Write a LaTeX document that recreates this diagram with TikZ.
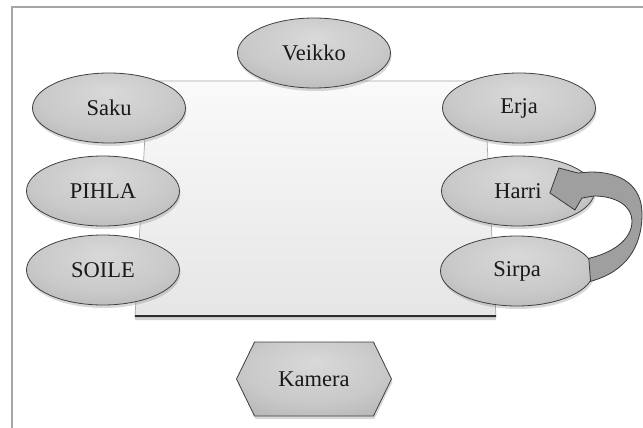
\documentclass[tikz,border=0pt]{standalone}
\usepackage{fontspec}
\setmainfont{Liberation Serif}
\usetikzlibrary{shapes.geometric,shapes.symbols,shadows,calc}

\pgfdeclareradialshading{ovalshade}{\pgfpoint{0bp}{12bp}}{color(0bp)=(gray!30); color(22bp)=(gray!42); color(38bp)=(gray!60); color(50bp)=(gray!78)}

\tikzset{
  person/.style={ellipse, draw=gray!50!black, line width=0.8pt, shade, shading=ovalshade,
    minimum width=153pt, minimum height=70pt, font=\fontsize{22.5}{27}\selectfont, text=black!90,
    drop shadow={shadow xshift=1pt, shadow yshift=-3pt, opacity=0.3}},
  cam/.style={person, signal, signal to=west and east, signal pointer angle=128,
    minimum width=155pt, minimum height=74pt, inner sep=0pt},
  turn/.style={fill=gray!75, draw=gray!45!black, line width=0.8pt},
}

\begin{document}
\begin{tikzpicture}[x=1pt,y=-1pt]
  \useasboundingbox (0,0) rectangle (643,428);
  \draw[gray!70, line width=1.8pt] (12,430) -- (12,7) -- (645,7);

  % table
  \draw[gray!70, line width=0.7pt, top color=gray!4, bottom color=gray!20,
    drop shadow={shadow xshift=0pt, shadow yshift=-3pt, opacity=0.35}]
    (148,81) -- (484,81) -- (496,317) -- (135,317) -- cycle;
  \draw[gray!35!black, line width=2.6pt] (135,316) -- (496,316);

  \node[person](veikko) at (314,53)  {Veikko};
  \node[person](saku)   at (109,108) {Saku};
  \node[person](erja)   at (519,108) {Erja};
  \node[person](pihla)  at (103,191) {PIHLA};
  \node[person](harri)  at (518,191) {Harri};
  \node[person](soile)  at (103,270) {SOILE};
  \node[person](sirpa)  at (517,271) {Sirpa};

  \node[cam](kamera) at (314,379) {Kamera};

  \filldraw[turn] (sirpa.-8) .. controls (625,272) and (642,248) .. (642,214)
    .. controls (642,186) and (622,172) .. ($(harri.east)+(-4,-19)$)
    -- ($(harri.east)+(-17,-18)$) -- ($(harri.east)+(-36,-23)$)
    -- ($(harri.east)+(-45,2)$) -- ($(harri.east)+(-20,19)$)
    -- ($(harri.east)+(-13,7)$) -- ($(harri.east)+(-1,5)$)
    .. controls (616,196) and (632,206) .. (632,221)
    .. controls (632,240) and (612,253) .. (sirpa.10) -- cycle;
\end{tikzpicture}
\end{document}
